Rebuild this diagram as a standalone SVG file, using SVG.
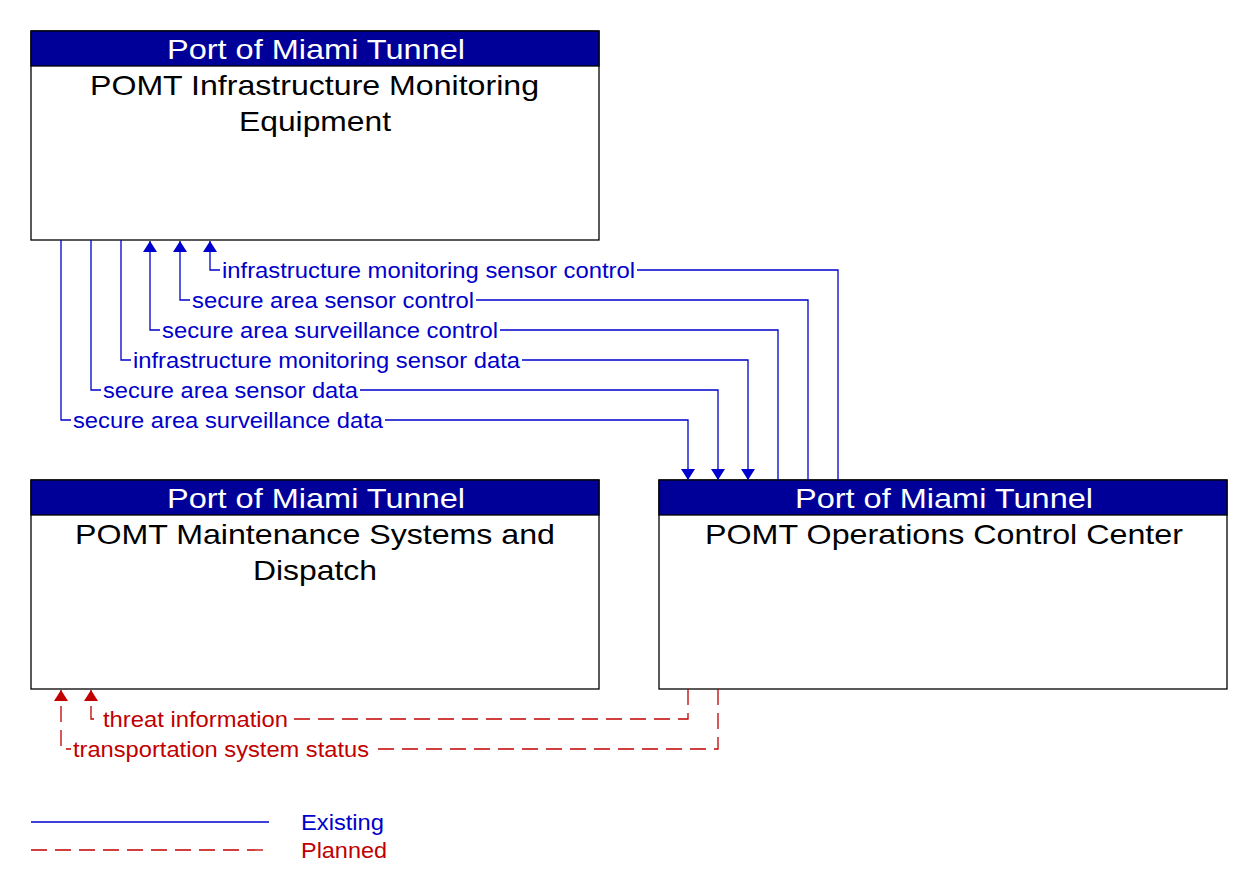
<svg xmlns="http://www.w3.org/2000/svg" width="1252" height="896" viewBox="0 0 1252 896">
<defs>
<style>
.box{fill:#fff;stroke:#000;stroke-width:1.3}
.hdr{fill:#000099;stroke:#000;stroke-width:1.3}
.ht{font-family:"Liberation Sans",Arial,sans-serif;font-size:28px;fill:#fff}
.bt{font-family:"Liberation Sans",Arial,sans-serif;font-size:28px;fill:#000}
.ex{fill:none;stroke:#0000cc;stroke-width:1.3}
.pl{fill:none;stroke:#c00000;stroke-width:1.3;stroke-dasharray:16,8}
.lb{font-family:"Liberation Sans",Arial,sans-serif;font-size:22px;fill:#0000cc}
.lr{font-family:"Liberation Sans",Arial,sans-serif;font-size:22px;fill:#c00000}
</style>
<marker id="ab" markerWidth="11" markerHeight="14" viewBox="0 0 11 14" refX="11" refY="7" orient="auto" markerUnits="userSpaceOnUse">
<path d="M0,0 L11,7 L0,14 z" fill="#0000cc"/>
</marker>
<marker id="ar" markerWidth="11" markerHeight="14" viewBox="0 0 11 14" refX="11" refY="7" orient="auto" markerUnits="userSpaceOnUse">
<path d="M0,0 L11,7 L0,14 z" fill="#c00000"/>
</marker>
</defs>
<rect width="1252" height="896" fill="#fff"/>
<g id="node-infra">
<rect class="box" x="31" y="31" width="568" height="209"/>
<rect class="hdr" x="31" y="31" width="568" height="35"/>
<text class="ht" x="167" y="59" textLength="298" lengthAdjust="spacingAndGlyphs">Port of Miami Tunnel</text>
<text class="bt" x="90" y="95" textLength="449" lengthAdjust="spacingAndGlyphs">POMT Infrastructure Monitoring</text>
<text class="bt" x="239" y="131" textLength="152" lengthAdjust="spacingAndGlyphs">Equipment</text>
</g>
<g id="node-maint">
<rect class="box" x="31" y="480" width="568" height="209"/>
<rect class="hdr" x="31" y="480" width="568" height="35"/>
<text class="ht" x="167" y="508" textLength="298" lengthAdjust="spacingAndGlyphs">Port of Miami Tunnel</text>
<text class="bt" x="75" y="544" textLength="480" lengthAdjust="spacingAndGlyphs">POMT Maintenance Systems and</text>
<text class="bt" x="253" y="580" textLength="124" lengthAdjust="spacingAndGlyphs">Dispatch</text>
</g>
<g id="node-occ">
<rect class="box" x="659" y="480" width="568" height="209"/>
<rect class="hdr" x="659" y="480" width="568" height="35"/>
<text class="ht" x="795" y="508" textLength="298" lengthAdjust="spacingAndGlyphs">Port of Miami Tunnel</text>
<text class="bt" x="705" y="544" textLength="478" lengthAdjust="spacingAndGlyphs">POMT Operations Control Center</text>
</g>
<g id="connectors">
<polyline class="ex" points="838,480 838,270 210,270 210,241" marker-end="url(#ab)"/>
<polyline class="ex" points="808,480 808,300 180,300 180,241" marker-end="url(#ab)"/>
<polyline class="ex" points="778,480 778,330 150,330 150,241" marker-end="url(#ab)"/>
<polyline class="ex" points="121,240 121,360 748,360 748,480" marker-end="url(#ab)"/>
<polyline class="ex" points="91,240 91,390 718,390 718,480" marker-end="url(#ab)"/>
<polyline class="ex" points="61,240 61,420 688,420 688,480" marker-end="url(#ab)"/>
<polyline class="pl" points="688,689 688,719 91,719 91,690" marker-end="url(#ar)"/>
<polyline class="pl" points="718,689 718,749 61,749 61,690" marker-end="url(#ar)"/>
<rect x="220" y="259" width="417" height="22" fill="#fff"/>
<rect x="190" y="289" width="286" height="22" fill="#fff"/>
<rect x="160" y="319" width="340" height="22" fill="#fff"/>
<rect x="131" y="349" width="391" height="22" fill="#fff"/>
<rect x="101" y="379" width="259" height="22" fill="#fff"/>
<rect x="71" y="409" width="314" height="22" fill="#fff"/>
<rect x="101" y="708" width="189" height="22" fill="#fff"/>
<rect x="71" y="738" width="300" height="22" fill="#fff"/>
<text class="lb" x="222" y="278" textLength="413" lengthAdjust="spacingAndGlyphs">infrastructure monitoring sensor control</text>
<text class="lb" x="192" y="308" textLength="282" lengthAdjust="spacingAndGlyphs">secure area sensor control</text>
<text class="lb" x="162" y="338" textLength="336" lengthAdjust="spacingAndGlyphs">secure area surveillance control</text>
<text class="lb" x="133" y="368" textLength="387" lengthAdjust="spacingAndGlyphs">infrastructure monitoring sensor data</text>
<text class="lb" x="103" y="398" textLength="255" lengthAdjust="spacingAndGlyphs">secure area sensor data</text>
<text class="lb" x="73" y="428" textLength="310" lengthAdjust="spacingAndGlyphs">secure area surveillance data</text>
<text class="lr" x="103" y="727" textLength="185" lengthAdjust="spacingAndGlyphs">threat information</text>
<text class="lr" x="73" y="757" textLength="296" lengthAdjust="spacingAndGlyphs">transportation system status</text>
</g>
<g id="legend">
<line class="ex" x1="31" y1="822" x2="269" y2="822"/>
<line class="pl" x1="31" y1="850" x2="269" y2="850"/>
<text class="lb" x="301" y="830" textLength="83" lengthAdjust="spacingAndGlyphs">Existing</text>
<text class="lr" x="301" y="858" textLength="86" lengthAdjust="spacingAndGlyphs">Planned</text>
</g>
</svg>
